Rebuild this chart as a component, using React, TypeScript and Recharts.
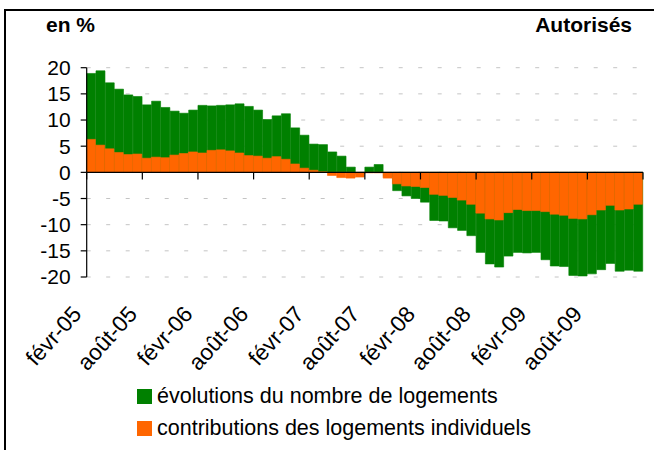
import React from 'react';
import { BarChart, Bar, XAxis, YAxis, CartesianGrid, ReferenceLine } from 'recharts';

const months = [
  'févr-05', 'mars-05', 'avr-05', 'mai-05', 'juin-05', 'juil-05', 'août-05', 'sept-05', 'oct-05', 'nov-05', 'déc-05',
  'janv-06', 'févr-06', 'mars-06', 'avr-06', 'mai-06', 'juin-06', 'juil-06', 'août-06', 'sept-06', 'oct-06', 'nov-06', 'déc-06',
  'janv-07', 'févr-07', 'mars-07', 'avr-07', 'mai-07', 'juin-07', 'juil-07', 'août-07', 'sept-07', 'oct-07', 'nov-07', 'déc-07',
  'janv-08', 'févr-08', 'mars-08', 'avr-08', 'mai-08', 'juin-08', 'juil-08', 'août-08', 'sept-08', 'oct-08', 'nov-08', 'déc-08',
  'janv-09', 'févr-09', 'mars-09', 'avr-09', 'mai-09', 'juin-09', 'juil-09', 'août-09', 'sept-09', 'oct-09', 'nov-09', 'déc-09',
  'janv-10',
];

const evolutions = [
  18.9, 19.4, 17.1, 15.9, 14.8, 14.5, 12.9, 13.6, 12.4, 11.7, 11.3,
  11.9, 12.8, 12.7, 12.8, 12.9, 13.1, 12.6, 11.9, 10.1, 10.8, 11.2, 8.5,
  7.1, 5.4, 5.3, 3.9, 3.1, 1.0, -0.3, 1.0, 1.5, -0.8, -3.5, -4.5,
  -5.0, -5.7, -9.2, -9.3, -10.6, -11.1, -12.1, -15.3, -17.5, -18.1, -16.0, -15.3,
  -15.4, -15.3, -16.7, -17.9, -18.0, -19.7, -19.8, -19.4, -18.6, -17.4, -18.9, -18.7,
  -18.9,
];

const individuels = [
  6.3, 5.2, 4.5, 3.8, 3.4, 3.5, 2.7, 2.9, 2.8, 3.3, 3.6,
  3.9, 3.7, 4.2, 4.3, 4.1, 3.7, 3.2, 3.1, 2.7, 3.0, 2.5, 1.6,
  0.8, 0.4, 0.1, -0.6, -1.0, -1.1, -0.9, -0.1, -0.1, -1.1, -2.2, -2.6,
  -2.7, -2.9, -4.2, -4.4, -4.8, -5.3, -6.1, -7.8, -8.9, -9.1, -7.7, -7.1,
  -7.3, -7.3, -7.5, -8.0, -8.2, -8.8, -8.9, -8.1, -7.2, -6.3, -7.2, -7.0,
  -6.1,
];

const tickLabels = ['févr-05', 'août-05', 'févr-06', 'août-06', 'févr-07', 'août-07', 'févr-08', 'août-08', 'févr-09', 'août-09'];
const yTicks = [-20, -15, -10, -5, 0, 5, 10, 15, 20];

const seriesNames = ['évolutions du nombre de logements', 'contributions des logements individuels'];
const seriesColors = ['#008000', '#FF6600'];

const data = months.map((m, i) => ({ month: m, evol: evolutions[i], indiv: individuels[i] }));

const FONT = '"Liberation Sans", Arial, Helvetica, sans-serif';

const XTick = (props: any) => {
  const { x, y, payload } = props;
  const off = payload && typeof payload.offset === 'number' ? payload.offset : 0;
  const bx = x - off - 4;
  const ty = y + 38;
  return (
    <text
      x={bx}
      y={ty}
      transform={`rotate(-48 ${bx} ${ty})`}
      textAnchor="end"
      fontSize={22.5}
      fontFamily={FONT}
      fill="#000"
    >
      {payload.value}
    </text>
  );
};

export default function App() {
  const lastMonth = months[months.length - 1];
  return (
    <div style={{ position: 'absolute', left: 0, top: 0, width: 654, height: 450, background: '#fff', overflow: 'hidden', fontFamily: FONT }}>
      <div style={{ position: 'absolute', left: 4, top: 9, width: 700, height: 500, borderTop: '2px solid #000', borderLeft: '2px solid #000' }} />
      <div style={{ position: 'absolute', left: 46, top: 13, fontSize: 21, fontWeight: 'bold', color: '#000' }}>en %</div>
      <div style={{ position: 'absolute', right: 22, top: 13, fontSize: 21, fontWeight: 'bold', color: '#000' }}>Autorisés</div>
      <BarChart
        width={654}
        height={450}
        data={data}
        margin={{ top: 67.7, right: 11, bottom: 73, left: 0 }}
        barCategoryGap={0}
        barGap="-100%"
      >
        <CartesianGrid vertical={false} stroke="#c4c4c4" strokeDasharray="4 15.5" />
        <XAxis
          dataKey="month"
          ticks={tickLabels}
          interval={0}
          axisLine={false}
          tickLine={false}
          tickSize={0}
          tickMargin={0}
          height={100}
          tick={<XTick />}
        />
        <YAxis
          domain={[-20, 20]}
          ticks={yTicks}
          width={86.7}
          axisLine={{ stroke: '#000', strokeWidth: 1.2 }}
          tickLine={{ stroke: '#000', strokeWidth: 1.2 }}
          tickSize={6}
          tickMargin={10}
          interval={0}
          tick={{ fontSize: 21, fontFamily: FONT, fill: '#000' }}
        />
        <Bar dataKey="evol" name={seriesNames[0]} fill={seriesColors[0]} stroke={seriesColors[0]} strokeWidth={0.6} isAnimationActive={false} />
        <Bar dataKey="indiv" name={seriesNames[1]} fill={seriesColors[1]} stroke={seriesColors[1]} strokeWidth={0.6} isAnimationActive={false} />
        <ReferenceLine y={0} stroke="#000" strokeWidth={1.2} />
        {tickLabels.map((t) => (
          <ReferenceLine
            key={t}
            segment={[{ x: t, y: 0 }, { x: t, y: -1.35 }]}
            position="start"
            stroke="#000"
            strokeWidth={1.2}
          />
        ))}
        <ReferenceLine
          segment={[{ x: lastMonth, y: 0 }, { x: lastMonth, y: -1.35 }]}
          position="end"
          stroke="#000"
          strokeWidth={1.2}
        />
      </BarChart>
      <div style={{ position: 'absolute', left: 137, top: 380, fontSize: 21.5, color: '#000', lineHeight: '32px' }}>
        {seriesNames.map((n, i) => (
          <div key={n} style={{ display: 'flex', alignItems: 'center', height: 32 }}>
            <span style={{ display: 'inline-block', width: 15, height: 15, background: seriesColors[i], marginRight: 5 }} />
            <span>{n}</span>
          </div>
        ))}
      </div>
    </div>
  );
}
